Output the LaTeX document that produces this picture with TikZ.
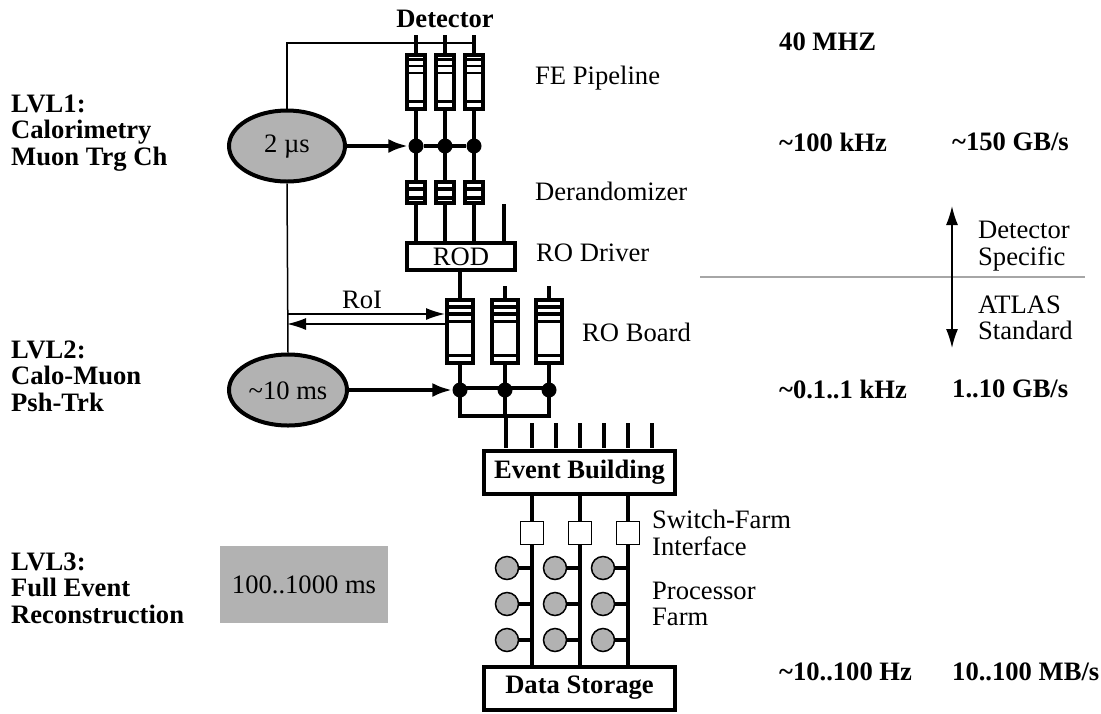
\documentclass[tikz,border=0pt]{standalone}
\usepackage{fontspec}
\setmainfont{Liberation Serif}
\usetikzlibrary{arrows.meta}
\usetikzlibrary{shapes.geometric}
\tikzset{
  thickline/.style={black, line width=4},
  thinline/.style={black, line width=1.5},
  bigfont/.style={font=\fontsize{26.6}{26}\selectfont},
  note/.style={inner sep=0, anchor=west, align=left, font=\fontsize{26.6}{26.5}\selectfont},
  boldnote/.style={note, font=\fontsize{26.6}{26.5}\selectfont\bfseries},
  headtip/.style={-{Latex[length=20,width=14]}},
  thintip/.style={-{Latex[length=19,width=12]}},
  dot/.style={circle, black, fill, inner sep=0, minimum size=15},
  bead/.style={circle, draw=black, line width=1.5, fill=black!30, inner sep=0, minimum size=23},
  slab/.style={draw=black, line width=4, fill=white, inner sep=0, rectangle},
  blob/.style={ellipse, draw=black, line width=4, fill=black!30, inner sep=0}
}
\begin{document}
\begin{tikzpicture}[x=1pt, y=-1pt]
      \useasboundingbox (0,0) rectangle (1101,713);
      \node[boldnote, anchor=center] (det) at (445,19) {Detector};
      % first level
      \node[blob, minimum width=116, minimum height=71] (lvla) at (287,146) {};
      \node[bigfont] (lvlat) at (287,147) {2 µs};
      \coordinate (wirec) at (287,43);
      \coordinate (wired) at (474,43);
      \foreach \i/\x in {1/416,2/445,3/474} {
        \coordinate (top\i) at (\x,35);
        \coordinate (rodt\i) at (\x,241);
        \node[dot] (fe\i) at (\x,146) {};
        \draw[thickline] (top\i) -- (rodt\i);
        \node[slab, minimum width=18, minimum height=54.5] (pipe\i) at (\x,81.75) {};
        \draw[black, line width=2.8] (\x-10,59.3) -- (\x+10,59.3) (\x-10,66) -- (\x+10,66) (\x-10,73) -- (\x+10,73) (\x-10,101.7) -- (\x+10,101.7);
        \node[slab, minimum width=18, minimum height=21] (der\i) at (\x,192.5) {};
        \draw[black, line width=4] (\x-10,189) -- (\x+10,189) (\x-10,198) -- (\x+10,198);
      }
      \draw[thinline] (lvla.north) -- (wirec) -- (wired);
      \draw[thickline] (fe1) -- (fe3);
      \draw[thickline, headtip] (lvla) -- (fe1);
      \coordinate (stub) at (504,204);
      \coordinate (rodt4) at (504,241);
      \draw[thickline] (stub) -- (rodt4);
      \node[slab, bigfont, minimum width=108, minimum height=27] (rod) at (461,256.5) {ROD};
      % second level
      \node[blob, minimum width=118, minimum height=71] (lvlb) at (288,390) {};
      \node[bigfont] (lvlbt) at (288,391) {\textasciitilde10 ms};
      \draw[thinline] (lvla.south) -- (lvlb.north);
      \foreach \i/\x in {1/460,2/505,3/549} {
        \coordinate (robt\i) at (\x,286);
        \node[dot] (ro\i) at (\x,390) {};
        \draw[thickline] (robt\i) -- (\x,416);
        \node[slab, minimum width=26, minimum height=63.3] (rob\i) at (\x,331.6) {};
        \draw[black, line width=3.2] (\x-14,307) -- (\x+14,307) (\x-14,314) -- (\x+14,314) (\x-14,321.5) -- (\x+14,321.5) (\x-14,355.7) -- (\x+14,355.7);
      }
      \coordinate (ua) at (458,416);
      \coordinate (ub) at (551,416);
      \coordinate (stem) at (506,448);
      \draw[thickline] (rod.south -| rob1) -- (rob1.north);
      \draw[thickline] (460,388) -- (549,388);
      \draw[thickline] (ua) -- (ub);
      \draw[thickline] (506,416) -- (stem);
      \draw[thickline, headtip] (lvlb) -- (ro1);
      % roi arrows
      \coordinate (roia) at (287,314);
      \coordinate (roib) at (445,314);
      \coordinate (roic) at (445,324);
      \coordinate (roid) at (287,324);
      \draw[thinline, thintip] (roia) -- (roib);
      \draw[thinline, thintip] (roic) -- (roid);
      \node[note, anchor=center] (roi) at (362,300) {RoI};
      % event building and farm
      \foreach \i/\x in {1/532,2/556,3/580,4/604,5/628,6/652} {
        \coordinate (evt\i) at (\x,423);
        \coordinate (evb\i) at (\x,448);
        \draw[thickline] (evt\i) -- (evb\i);
      }
      \node[slab, bigfont, minimum width=191, minimum height=43, font=\fontsize{26.6}{26}\selectfont\bfseries] (event) at (579.5,472.5) {Event Building};
      \node[slab, bigfont, minimum width=191, minimum height=43, font=\fontsize{26.6}{26}\selectfont\bfseries] (store) at (579.5,688) {Data Storage};
      \foreach \i/\x in {1/532,2/580,3/628} {
        \coordinate (evd\i) at (\x,495);
        \coordinate (std\i) at (\x,665);
        \draw[thickline] (evd\i) -- (std\i);
        \node[draw=black, line width=1.5, fill=white, inner sep=0, minimum size=23] (sw\i) at (\x,533) {};
        \foreach \j/\y in {1/568,2/604,3/640} {
          \node[bead] (cpu\i\j) at (\x-25,\y) {};
          \coordinate (tap\i\j) at (\x,\y);
          \draw[thickline] (cpu\i\j) -- (tap\i\j);
        }
      }
      \node[rectangle, bigfont, fill=black!30, inner sep=0, minimum width=168, minimum height=77] (lvlc) at (304,584.5) {100..1000 ms};
      % separator on the right
      \coordinate (sepa) at (700,277);
      \coordinate (sepb) at (1085,277);
      \draw[black!35, line width=1.5] (sepa) -- (sepb);
      \coordinate (updown) at (952,277);
      \coordinate (upend) at (952,206);
      \coordinate (downend) at (952,348);
      \draw[thinline, thintip] (updown) -- (upend);
      \draw[thinline, thintip] (updown) -- (downend);
      % labels
      \node[boldnote] (la) at (11,133) {LVL1:\\Calorimetry\\Muon Trg Ch};
      \node[boldnote] (lb) at (11,376) {LVL2:\\Calo-Muon\\Psh-Trk};
      \node[boldnote] (lc) at (11,588) {LVL3:\\Full Event\\Reconstruction};
      \node[note] (fel) at (535,78) {FE Pipeline};
      \node[note] (derl) at (535,191) {Derandomizer};
      \node[note] (rodl) at (536,253) {RO Driver};
      \node[note] (robl) at (582,332) {RO Board};
      \node[note] (swl) at (652,533) {Switch-Farm\\Interface};
      \node[note] (farml) at (652,604) {Processor\\Farm};
      \node[note] (detl) at (978,246) {Detector\\Specific};
      \node[note] (atl) at (978,318) {ATLAS\\Standard};
      \node[boldnote] (ra) at (779,42) {40 MHZ};
      \node[boldnote] (rb) at (779,142) {\textasciitilde100 kHz};
      \node[boldnote] (rc) at (952,142) {\textasciitilde150 GB/s};
      \node[boldnote] (rd) at (779,389) {\textasciitilde0.1..1 kHz};
      \node[boldnote] (re) at (952,389) {1..10 GB/s};
      \node[boldnote] (rf) at (779,672) {\textasciitilde10..100 Hz};
      \node[boldnote] (rg) at (952,672) {10..100 MB/s};
\end{tikzpicture}
\end{document}
